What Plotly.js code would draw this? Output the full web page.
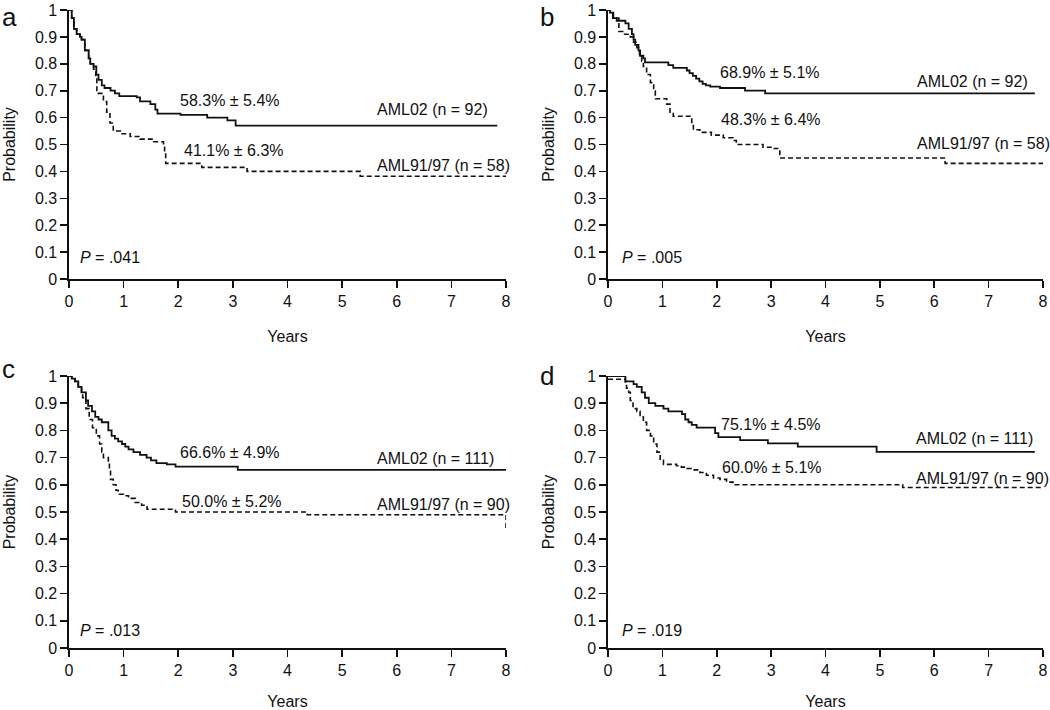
<!DOCTYPE html>
<html>
<head>
<meta charset="utf-8">
<script src="https://cdn.plot.ly/plotly-3.0.1.min.js"></script>
<style>html,body{margin:0;padding:0;background:#fff;}#chart{width:1050px;height:710px;}</style>
</head>
<body>
<div id="chart"></div>
<script>
// ---- Panel a ----
var a_aml02_t = [0, 0.05, 0.09, 0.14, 0.2, 0.23, 0.29, 0.36, 0.39, 0.45, 0.5, 0.54, 0.6, 0.65, 0.76, 0.84, 0.92, 1.24, 1.3, 1.49, 1.58, 1.62, 2.04, 2.53, 2.9, 3.05, 7.84];
var a_aml02_s = [1, 0.97, 0.93, 0.91, 0.9, 0.89, 0.85, 0.82, 0.80, 0.79, 0.76, 0.74, 0.72, 0.71, 0.70, 0.69, 0.68, 0.675, 0.66, 0.65, 0.63, 0.615, 0.61, 0.60, 0.59, 0.57, 0.57];
var a_aml9197_t = [0, 0.05, 0.09, 0.14, 0.2, 0.23, 0.29, 0.36, 0.39, 0.45, 0.49, 0.51, 0.63, 0.69, 0.75, 0.81, 0.94, 1.12, 1.3, 1.55, 1.73, 1.75, 1.77, 2.43, 3.26, 5.33, 8.0];
var a_aml9197_s = [1, 0.97, 0.93, 0.91, 0.9, 0.89, 0.85, 0.82, 0.80, 0.78, 0.75, 0.69, 0.66, 0.62, 0.58, 0.55, 0.54, 0.53, 0.52, 0.51, 0.49, 0.47, 0.43, 0.415, 0.40, 0.382, 0.382];
// ---- Panel b ----
var b_aml02_t = [0, 0.04, 0.09, 0.16, 0.32, 0.38, 0.44, 0.47, 0.5, 0.56, 0.59, 0.65, 0.68, 1.11, 1.2, 1.45, 1.5, 1.56, 1.62, 1.68, 1.74, 1.8, 1.88, 2.06, 2.52, 2.89, 7.85];
var b_aml02_s = [1, 0.99, 0.97, 0.96, 0.95, 0.93, 0.91, 0.89, 0.87, 0.85, 0.83, 0.82, 0.805, 0.795, 0.785, 0.775, 0.765, 0.755, 0.745, 0.735, 0.725, 0.72, 0.715, 0.71, 0.70, 0.69, 0.69];
var b_aml9197_t = [0, 0.04, 0.1, 0.2, 0.29, 0.41, 0.47, 0.53, 0.58, 0.62, 0.65, 0.71, 0.78, 0.84, 0.87, 1.08, 1.14, 1.2, 1.54, 1.57, 1.69, 1.9, 2.12, 2.3, 2.36, 2.85, 3.04, 3.16, 6.2, 8.0];
var b_aml9197_s = [1, 0.99, 0.97, 0.92, 0.91, 0.90, 0.88, 0.86, 0.83, 0.81, 0.79, 0.76, 0.73, 0.70, 0.67, 0.65, 0.62, 0.605, 0.575, 0.555, 0.545, 0.535, 0.525, 0.515, 0.50, 0.49, 0.485, 0.45, 0.43, 0.43];
// ---- Panel c ----
var c_aml02_t = [0, 0.05, 0.11, 0.17, 0.23, 0.31, 0.35, 0.42, 0.48, 0.54, 0.6, 0.72, 0.78, 0.84, 0.9, 0.97, 1.03, 1.09, 1.18, 1.3, 1.42, 1.5, 1.6, 1.79, 1.95, 3.09, 8.0];
var c_aml02_s = [1, 0.99, 0.98, 0.96, 0.94, 0.91, 0.89, 0.87, 0.85, 0.84, 0.83, 0.80, 0.78, 0.77, 0.76, 0.75, 0.74, 0.73, 0.72, 0.71, 0.70, 0.69, 0.68, 0.675, 0.667, 0.655, 0.655];
var c_aml9197_t = [0, 0.05, 0.11, 0.17, 0.23, 0.25, 0.31, 0.37, 0.43, 0.5, 0.56, 0.6, 0.63, 0.72, 0.74, 0.76, 0.81, 0.86, 0.9, 1.0, 1.09, 1.21, 1.33, 1.43, 1.95, 4.36, 8.0, 8.0];
var c_aml9197_s = [1, 0.99, 0.98, 0.96, 0.94, 0.92, 0.88, 0.84, 0.81, 0.78, 0.75, 0.72, 0.70, 0.68, 0.65, 0.62, 0.60, 0.58, 0.565, 0.56, 0.55, 0.535, 0.525, 0.51, 0.50, 0.49, 0.49, 0.44];
// ---- Panel d ----
var d_aml02_t = [0, 0.32, 0.47, 0.53, 0.62, 0.68, 0.75, 0.87, 1.02, 1.11, 1.36, 1.42, 1.48, 1.54, 1.63, 1.97, 2.03, 2.43, 2.94, 3.49, 4.94, 7.85];
var d_aml02_s = [1, 0.98, 0.97, 0.96, 0.94, 0.92, 0.90, 0.89, 0.88, 0.87, 0.86, 0.84, 0.83, 0.82, 0.81, 0.79, 0.775, 0.764, 0.752, 0.74, 0.721, 0.721];
var d_aml9197_t = [0, 0.32, 0.34, 0.38, 0.41, 0.46, 0.53, 0.59, 0.65, 0.71, 0.78, 0.84, 0.9, 0.96, 1.02, 1.26, 1.35, 1.45, 1.57, 1.69, 1.81, 1.94, 2.06, 2.18, 2.3, 5.42, 8.0];
var d_aml9197_s = [0.988, 0.97, 0.955, 0.94, 0.91, 0.88, 0.87, 0.85, 0.83, 0.80, 0.78, 0.75, 0.72, 0.69, 0.675, 0.67, 0.665, 0.66, 0.655, 0.645, 0.635, 0.625, 0.62, 0.61, 0.60, 0.59, 0.59];

var panelLetters = ['a', 'b', 'c', 'd'];
var pValues = ['.041', '.005', '.013', '.019'];
var est02 = ['58.3% ± 5.4%', '68.9% ± 5.1%', '66.6% ± 4.9%', '75.1% ± 4.5%'];
var est9197 = ['41.1% ± 6.3%', '48.3% ± 6.4%', '50.0% ± 5.2%', '60.0% ± 5.1%'];
var n02 = [92, 92, 111, 111];
var n9197 = [58, 58, 90, 90];
var xTicks = [0, 1, 2, 3, 4, 5, 6, 7, 8];

var W = 1050, H = 710;
function px(x) { return x / W; }
function py(y) { return 1 - y / H; }

var FONT = 'Liberation Sans, Arial, sans-serif';
var INK = '#111';
var FS = 16;

var curves = [
  [a_aml02_t, a_aml02_s, a_aml9197_t, a_aml9197_s],
  [b_aml02_t, b_aml02_s, b_aml9197_t, b_aml9197_s],
  [c_aml02_t, c_aml02_s, c_aml9197_t, c_aml9197_s],
  [d_aml02_t, d_aml02_s, d_aml9197_t, d_aml9197_s]
];

// plot-area pixel boxes [left, right, top, bottom]
var boxes = [[69, 506, 10, 279], [608, 1043, 10, 279], [69, 506, 376, 648], [608, 1043, 376, 648]];

// annotation positions (data units) per panel
var pos02 = [[2.0, 0.665], [2.02, 0.768], [2.0, 0.717], [2.04, 0.82]];
var pos9197 = [[2.07, 0.478], [2.04, 0.592], [2.03, 0.537], [2.06, 0.662]];
var posN02 = [[5.6, 0.629], [5.64, 0.735], [5.6, 0.695], [5.63, 0.772]];
var posN9197 = [[5.6, 0.423], [5.64, 0.504], [5.6, 0.526], [5.63, 0.625]];
var posP = [[0.16, 0.081], [0.22, 0.081], [0.16, 0.066], [0.22, 0.066]];
// panel letter boxes: [left px, top px]
var letterPos = [[-1, 0], [538, 0], [-1, 352], [538, 359]];

var data = [];
var layout = {
  width: W, height: H,
  margin: {l: 0, r: 0, t: 0, b: 0},
  paper_bgcolor: '#fff', plot_bgcolor: '#fff',
  showlegend: false,
  font: {family: FONT, size: FS, color: INK},
  annotations: []
};

for (var i = 0; i < 4; i++) {
  var k = i === 0 ? '' : String(i + 1);
  var xa = 'x' + k, ya = 'y' + k;
  var c = curves[i];
  data.push({x: c[0], y: c[1], xaxis: xa, yaxis: ya, type: 'scatter', mode: 'lines',
    line: {shape: 'hv', color: INK, width: 1.8}, name: 'AML02', hoverinfo: 'x+y'});
  data.push({x: c[2], y: c[3], xaxis: xa, yaxis: ya, type: 'scatter', mode: 'lines',
    line: {shape: 'hv', color: INK, width: 1.6, dash: '5px,3px'}, name: 'AML91/97', hoverinfo: 'x+y'});
  var b = boxes[i];
  layout['xaxis' + k] = {
    domain: [px(b[0]), px(b[1])], anchor: ya, range: [0, 8], tickvals: xTicks,
    showgrid: false, zeroline: false, showline: true, linecolor: INK, linewidth: 1.6,
    ticks: 'outside', ticklen: 7, tickwidth: 1.6, tickcolor: INK,
    tickfont: {size: FS, color: INK, family: FONT}, ticklabeloverflow: 'allow',
    title: {text: 'Years', font: {size: FS, color: INK, family: FONT}, standoff: 22},
    fixedrange: true
  };
  layout['yaxis' + k] = {
    domain: [py(b[3]), py(b[2])], anchor: xa, range: [0, 1], dtick: 0.1, tick0: 0,
    showgrid: false, zeroline: false, showline: true, linecolor: INK, linewidth: 1.6,
    ticks: 'outside', ticklen: 7, tickwidth: 1.6, tickcolor: INK,
    tickfont: {size: FS, color: INK, family: FONT}, ticklabeloverflow: 'allow',
    title: {text: 'Probability', font: {size: FS, color: INK, family: FONT}, standoff: 15},
    fixedrange: true
  };
  var ann = function (x, y, text) {
    layout.annotations.push({xref: xa, yref: ya, x: x, y: y, text: text, showarrow: false,
      xanchor: 'left', yanchor: 'middle', font: {size: FS, color: INK, family: FONT}});
  };
  ann(pos02[i][0], pos02[i][1], est02[i]);
  ann(pos9197[i][0], pos9197[i][1], est9197[i]);
  ann(posN02[i][0], posN02[i][1], 'AML02 (n = ' + n02[i] + ')');
  ann(posN9197[i][0], posN9197[i][1], 'AML91/97 (n = ' + n9197[i] + ')');
  ann(posP[i][0], posP[i][1], '<i>P</i> = ' + pValues[i]);
  layout.annotations.push({xref: 'paper', yref: 'paper', x: Math.max(0, px(letterPos[i][0])), y: py(letterPos[i][1]),
    text: panelLetters[i], showarrow: false, xanchor: 'left', yanchor: 'top',
    font: {size: 26, color: INK, family: FONT}});
}

Plotly.newPlot('chart', data, layout, {displayModeBar: false, staticPlot: true});
</script>
</body>
</html>
